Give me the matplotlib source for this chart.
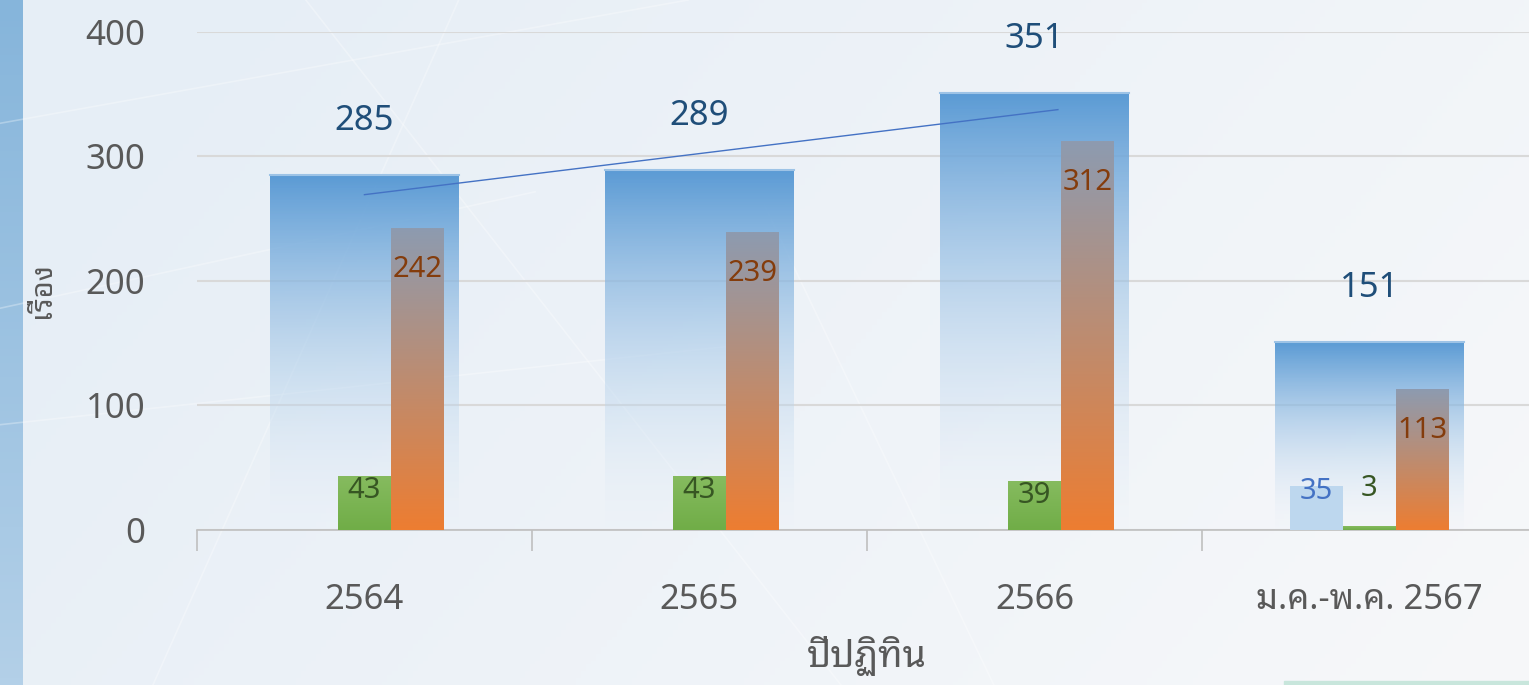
import matplotlib
matplotlib.use("Agg")
import matplotlib.pyplot as plt
import numpy as np
from matplotlib.colors import to_rgb

plt.rcParams["font.family"] = ["Noto Sans Thai Looped", "Noto Sans", "DejaVu Sans"]

categories = ["2564", "2565", "2566", "ม.ค.-พ.ค. 2567"]
total = [285, 289, 351, 151]
series_a = [0, 0, 0, 35]
series_b = [43, 43, 39, 3]
series_c = [242, 239, 312, 113]
y_ticks = [0, 100, 200, 300, 400]


def gradient_bar(ax, x0, x1, h, top, bottom, alpha_top, alpha_bottom, z):
    # vertical colour/alpha gradient clipped to one bar
    n = 256
    t = np.linspace(0, 1, n)[:, None]  # 0 = bottom, 1 = top
    c_top = np.array(to_rgb(top))
    c_bot = np.array(to_rgb(bottom))
    rgb = c_bot + (c_top - c_bot) * t
    a = alpha_bottom + (alpha_top - alpha_bottom) * t
    img = np.concatenate([rgb, a], axis=1)[:, None, :]
    ax.imshow(img, extent=(x0, x1, 0, h), origin="lower", aspect="auto",
              zorder=z, interpolation="bilinear")


fig = plt.figure(figsize=(15.29, 6.85), dpi=100)

# page-like background
bg = fig.add_axes([0, 0, 1, 1], zorder=-5)
gy, gx = np.mgrid[0:1:200j, 0:1:300j]
base = np.array(to_rgb("#F7F8FA"))
tint = np.array(to_rgb("#E6EEF6"))
w = np.clip((1 - gx) * 0.8 + gy * 0.3, 0, 1)[..., None]
bg.imshow(base + (tint - base) * w, extent=(0, 1, 0, 1), aspect="auto", origin="lower")
strip = np.linspace(0, 1, 100)[:, None, None]
bg.imshow(np.array(to_rgb("#B3D0E8")) * (1 - strip) + np.array(to_rgb("#86B5DB")) * strip,
          extent=(0, 0.0145, 0, 1), aspect="auto", origin="lower")
for (xa, ya, xb, yb) in [(0.0, 0.82, 0.45, 1.0), (0.0, 0.38, 0.5, 0.5), (0.1, 0.0, 0.3, 1.0),
                         (0.0, 0.55, 0.35, 0.72), (0.2, 1.0, 0.55, 0.0), (0.5, 0.7, 0.65, 0.0)]:
    bg.plot([xa, xb], [ya, yb], color="white", lw=1.2, alpha=0.3)
bg.add_patch(plt.Rectangle((0.84, 0), 0.16, 0.006, color="#C8E6DC"))
bg.set_xlim(0, 1)
bg.set_ylim(0, 1)
bg.axis("off")

ax = fig.add_axes([0.1288, 0.2263, 0.8764, 0.727])
ax.patch.set_alpha(0)
x = np.arange(len(categories))
wide = 0.564
narrow = 0.158

for i in x:
    gradient_bar(ax, i - wide / 2, i + wide / 2, total[i], "#5B9BD5", "#EEF4FA", 1.0, 0.1, 2)
    ax.plot([i - wide / 2, i + wide / 2], [total[i]] * 2, color="#9DC3E6", lw=1.5, zorder=2.5)
    if series_a[i]:
        ax.bar(i - narrow, series_a[i], narrow, color="#BDD7EE", zorder=3)
    if series_b[i]:
        gradient_bar(ax, i - narrow / 2, i + narrow / 2, series_b[i], "#86BB5F", "#70AD47", 1, 1, 3)
    gradient_bar(ax, i + narrow / 2, i + 1.5 * narrow, series_c[i], "#8D9BB0", "#ED7D31", 1, 1, 3)

# linear trend of totals over the full years
fit = np.polyfit(x[:3], total[:3], 1)
tx = np.array([0, 2.07])
ax.plot(tx, np.polyval(fit, tx) - 6, color="#4472C4", lw=1, zorder=4)

# value labels
for i in x:
    ax.annotate(str(total[i]), (i, total[i]), xytext=(0, 54), textcoords="offset pixels",
                ha="center", va="center", fontsize=25, color="#1F4E79", zorder=6)
    ax.annotate(str(series_c[i]), (i + narrow, series_c[i]), xytext=(0, -41),
                textcoords="offset pixels", ha="center", va="center", fontsize=21,
                color="#843C0C", zorder=6)
    ax.annotate(str(series_b[i]), (i, max(series_b[i], 25)), xytext=(0, -14 if series_b[i] > 20 else 10),
                textcoords="offset pixels", ha="center", va="center", fontsize=21,
                color="#375623", zorder=6)
    if series_a[i]:
        ax.annotate(str(series_a[i]), (i - narrow, series_a[i]), xytext=(0, -5),
                    textcoords="offset pixels", ha="center", va="center", fontsize=21,
                    color="#4472C4", zorder=6)

ax.set_xlim(-0.5, 3.5)
ax.set_ylim(0, 400)
ax.set_yticks(y_ticks)
ax.set_yticklabels([str(v) for v in y_ticks], fontsize=25, color="#595959")
ax.tick_params(axis="y", length=0, pad=37)
ax.yaxis.grid(True, color="#D9D9D9", lw=1.5)
ax.set_axisbelow(True)

ax.set_xticks(np.arange(-0.5, 4, 1))
ax.set_xticklabels([])
ax.tick_params(axis="x", which="major", length=15, color="#BFBFBF", width=1.2)
ax.set_xticks(x, minor=True)
ax.set_xticklabels(categories, minor=True, fontsize=25, color="#595959")
ax.tick_params(axis="x", which="minor", length=0, pad=38)

for s in ["top", "right", "left"]:
    ax.spines[s].set_visible(False)
ax.spines["bottom"].set_color("#BFBFBF")
ax.spines["bottom"].set_linewidth(1.2)

ax.set_xlabel("ปีปฏิทิน", fontsize=27, color="#595959", labelpad=14)
fig.text(0.0275, 0.577, "เรื่อง", rotation=90, ha="center", va="center", fontsize=21,
         color="#595959")

fig.savefig("out.png")
